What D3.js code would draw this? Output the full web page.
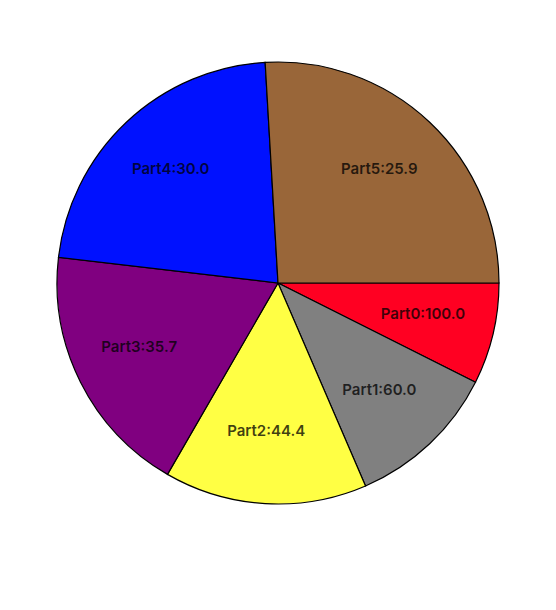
<!DOCTYPE html>
<html><head><meta charset="utf-8">
<script src="https://cdn.jsdelivr.net/npm/d3@7"></script>
<style>html,body{margin:0;padding:0;background:#fff;}</style>
</head><body>
<svg id="chart" width="556" height="610"></svg>
<script>
const categories = ["Part0","Part1","Part2","Part3","Part4","Part5"];
const labelValues = [100.0, 60.0, 44.4, 35.7, 30.0, 25.9];
const sliceWeights = [2, 3, 4, 5, 6, 7];
const colors = ["#ff0022","#808080","#ffff44","#800080","#0011ff","#996639"];

const data = categories.map((c,i)=>({name:c, label:labelValues[i], w:sliceWeights[i], color:colors[i]}));
const svg = d3.select("#chart");
const cx = 278, cy = 283, R = 221;
const g = svg.append("g").attr("transform",`translate(${cx},${cy})`);
const pie = d3.pie().value(d=>d.w).sort(null)
  .startAngle(Math.PI/2).endAngle(Math.PI/2 + 2*Math.PI);
const arc = d3.arc().innerRadius(0).outerRadius(R);
const labelArc = d3.arc().innerRadius(152).outerRadius(152);
const arcs = pie(data);
g.selectAll("path").data(arcs).join("path")
  .attr("d",arc).attr("fill",d=>d.data.color)
  .attr("stroke","#000").attr("stroke-width",1.2);
g.selectAll("text").data(arcs).join("text")
  .attr("transform",d=>{const c=labelArc.centroid(d);return `translate(${c[0]-3},${c[1]-4})`;})
  .attr("text-anchor","middle").attr("dy","0.35em")
  .style("font-family","Inter, 'Noto Sans', sans-serif")
  .style("font-size","15px").style("font-weight","600")
  .attr("fill","#000").attr("fill-opacity",0.75)
  .text(d=>`${d.data.name}:${d.data.label.toFixed(1)}`);
</script>
</body></html>
